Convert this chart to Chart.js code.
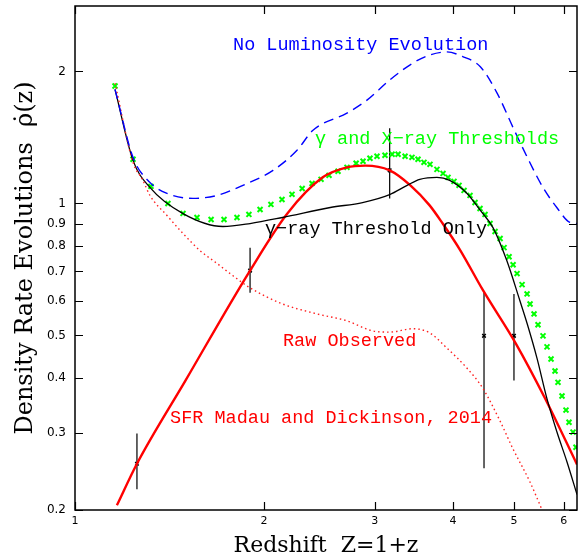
<!DOCTYPE html>
<html lang="en">
<head>
<meta charset="UTF-8">
<title>Density Rate Evolutions</title>
<script src="https://cdn.jsdelivr.net/npm/chart.js"></script>
<style>
  html, body { margin: 0; padding: 0; background: #fff; }
</style>
</head>
<body>
<canvas id="rateChart" width="579" height="560"></canvas>
<script>
// Tick values (Z = 1+z on x, rho-dot on y)
const xTicks = [1, 2, 3, 4, 5, 6];
const yTicks = [0.2, 0.3, 0.4, 0.5, 0.6, 0.7, 0.8, 0.9, 1, 2];

// SFR Madau and Dickinson, 2014 (red solid)
const sfrX = [1.166, 1.255, 1.5, 1.9, 2.18, 2.48, 2.71, 2.90, 3.17, 3.42, 3.67, 3.85, 4.1, 4.46, 5.04, 5.6, 6.3];
const sfrY = [0.205, 0.255, 0.395, 0.703, 0.95, 1.147, 1.209, 1.22, 1.19, 1.10, 0.99, 0.90, 0.785, 0.635, 0.478, 0.36, 0.254];

// gamma-ray threshold only (black solid)
const gamX = [1.158, 1.237, 1.316, 1.486, 1.72, 1.90, 2.14, 2.55, 2.87, 3.17, 3.38, 3.54, 3.77, 3.95, 4.21, 4.42, 4.63, 4.87, 5.11, 5.25, 5.44, 5.64, 5.85, 6.07, 6.3];
const gamY = [1.82, 1.254, 1.088, 0.948, 0.886, 0.90, 0.929, 0.979, 1.005, 1.048, 1.10, 1.135, 1.147, 1.129, 1.054, 0.964, 0.881, 0.741, 0.60, 0.531, 0.444, 0.36, 0.302, 0.258, 0.217];

// no luminosity evolution (blue dashed)
const nleX = [1.158, 1.237, 1.316, 1.401, 1.541, 1.683, 1.851, 2.067, 2.257, 2.393, 2.71, 2.917, 3.17, 3.452, 3.67, 3.91, 4.15, 4.42, 4.70, 4.98, 5.25, 5.56, 5.85, 6.14, 6.3];
const nleY = [1.82, 1.274, 1.117, 1.054, 1.027, 1.043, 1.10, 1.19, 1.322, 1.469, 1.607, 1.72, 1.912, 2.09, 2.18, 2.216, 2.16, 2.05, 1.785, 1.493, 1.274, 1.088, 0.979, 0.905, 0.90];

// raw observed (red dotted)
const rawX = [1.158, 1.237, 1.283, 1.316, 1.401, 1.486, 1.581, 1.683, 1.785, 1.90, 2.14, 2.429, 2.71, 2.982, 3.17, 3.452, 3.67, 3.91, 4.21, 4.46, 4.752, 4.98, 5.30, 5.56];
const rawY = [1.88, 1.241, 1.129, 1.043, 0.939, 0.854, 0.781, 0.73, 0.684, 0.642, 0.590, 0.560, 0.540, 0.512, 0.509, 0.518, 0.507, 0.468, 0.421, 0.379, 0.319, 0.276, 0.232, 0.198];

// gamma and X-ray thresholds (green crosses)
const gxX = [1.158, 1.237, 1.321, 1.406, 1.486, 1.564, 1.647, 1.727, 1.811, 1.892, 1.971, 2.051, 2.136, 2.216, 2.30, 2.385,
  2.465, 2.538, 2.623, 2.711, 2.803, 2.875, 2.949, 3.026, 3.116, 3.198, 3.269, 3.354, 3.44, 3.517, 3.595, 3.675,
  3.77, 3.855, 3.926, 4.013, 4.088, 4.164, 4.256, 4.335, 4.415, 4.497, 4.58, 4.665, 4.752, 4.822, 4.911, 4.984,
  5.057, 5.151, 5.246, 5.304, 5.382, 5.461, 5.562, 5.644, 5.728, 5.812, 5.876, 5.963, 6.051, 6.118, 6.209, 6.277];
const gxY = [1.853, 1.261, 1.094, 1.0, 0.949, 0.929, 0.919, 0.919, 0.929, 0.944, 0.969, 0.995, 1.021, 1.049, 1.082, 1.111,
  1.135, 1.159, 1.184, 1.209, 1.235, 1.248, 1.268, 1.281, 1.288, 1.295, 1.295, 1.281, 1.274, 1.261, 1.241, 1.228,
  1.196, 1.171, 1.147, 1.123, 1.100, 1.071, 1.043, 1.005, 0.974, 0.944, 0.900, 0.863, 0.832, 0.793, 0.756, 0.725,
  0.692, 0.653, 0.622, 0.590, 0.560, 0.529, 0.499, 0.471, 0.442, 0.415, 0.391, 0.364, 0.338, 0.317, 0.301, 0.278];

// data points with error bars
const errX = [1.255, 1.9, 3.17, 4.48, 5.0];
const errY = [0.255, 0.703, 1.19, 0.499, 0.499];
const errLo = [0.223, 0.626, 1.027, 0.249, 0.395];
const errHi = [0.299, 0.793, 1.485, 0.626, 0.622];

// curve labels, placed in data coordinates (left edge, vertical middle)
const notes = [
  { text: 'No Luminosity Evolution', x: 1.785, y: 2.30, color: '#0000ff' },
  { text: 'γ and X−ray Thresholds', x: 2.41, y: 1.40, color: '#00ff00' },
  { text: 'γ−ray Threshold Only', x: 2.007, y: 0.872, color: '#000000' },
  { text: 'Raw Observed', x: 2.144, y: 0.486, color: '#ff0000' },
  { text: 'SFR Madau and Dickinson, 2014', x: 1.417, y: 0.324, color: '#ff0000' }
];

const pts = (xs, ys) => xs.map((v, i) => ({ x: v, y: ys[i] }));

// error bars as one line dataset, broken by null points
const errBars = [];
errX.forEach((v, i) => {
  errBars.push({ x: v, y: errLo[i] }, { x: v, y: errHi[i] }, { x: v, y: null });
});

// keep the plot box fixed: no extra room for edge labels
const noPad = s => { s.paddingTop = 0; s.paddingBottom = 0; s.paddingLeft = 0; s.paddingRight = 0; };

const framePlugin = {
  id: 'frame',
  afterDatasetsDraw(chart) {
    const { ctx, chartArea: a, scales: { x, y } } = chart;
    ctx.save();
    ctx.strokeStyle = '#000';
    ctx.lineWidth = 1.5;
    ctx.strokeRect(a.left, a.top, a.right - a.left, a.bottom - a.top);
    ctx.lineWidth = 1.2;
    ctx.beginPath();
    xTicks.forEach(v => {
      const px = Math.round(x.getPixelForValue(v)) + 0.5;
      ctx.moveTo(px, a.bottom); ctx.lineTo(px, a.bottom - 8);
      ctx.moveTo(px, a.top); ctx.lineTo(px, a.top + 8);
    });
    yTicks.forEach(v => {
      const py = Math.round(y.getPixelForValue(v)) + 0.5;
      ctx.moveTo(a.left, py); ctx.lineTo(a.left + 8, py);
      ctx.moveTo(a.right, py); ctx.lineTo(a.right - 8, py);
    });
    ctx.stroke();

    ctx.font = '18.5px "Liberation Mono", monospace';
    ctx.textAlign = 'left';
    ctx.textBaseline = 'middle';
    notes.forEach(n => {
      ctx.fillStyle = n.color;
      ctx.fillText(n.text, x.getPixelForValue(n.x), y.getPixelForValue(n.y));
    });
    ctx.restore();
  }
};

const curve = { pointRadius: 0, cubicInterpolationMode: 'monotone' };

new Chart(document.getElementById('rateChart').getContext('2d'), {
  type: 'line',
  data: {
    datasets: [
      Object.assign({
        label: 'No Luminosity Evolution',
        data: pts(nleX, nleY),
        borderColor: '#0000ff',
        borderWidth: 1.4,
        borderDash: [10, 6]
      }, curve),
      Object.assign({
        label: 'Raw Observed',
        data: pts(rawX, rawY),
        borderColor: '#ff2020',
        borderWidth: 1.4,
        borderDash: [1.5, 3]
      }, curve),
      Object.assign({
        label: 'gamma-ray Threshold Only',
        data: pts(gamX, gamY),
        borderColor: '#000000',
        borderWidth: 1.3
      }, curve),
      Object.assign({
        label: 'SFR Madau and Dickinson, 2014',
        data: pts(sfrX, sfrY),
        borderColor: '#ff0000',
        borderWidth: 2.4
      }, curve),
      {
        label: 'gamma and X-ray Thresholds',
        data: pts(gxX, gxY),
        showLine: false,
        pointStyle: 'crossRot',
        pointRadius: 3.5,
        pointBorderColor: '#00ff00',
        pointBorderWidth: 2
      },
      {
        label: 'error bars',
        data: errBars,
        borderColor: '#000000',
        borderWidth: 1.2,
        pointRadius: 0,
        spanGaps: false
      },
      {
        label: 'data',
        data: pts(errX, errY),
        showLine: false,
        pointStyle: 'crossRot',
        pointRadius: 2.5,
        pointBorderColor: '#000000',
        pointBorderWidth: 1.5
      }
    ]
  },
  options: {
    responsive: false,
    animation: false,
    events: [],
    layout: { autoPadding: false, padding: { top: 6, right: 2, left: 0, bottom: 0 } },
    plugins: { legend: { display: false }, tooltip: { enabled: false } },
    scales: {
      x: {
        type: 'logarithmic',
        min: 1,
        max: 6.3,
        afterBuildTicks: s => { s.ticks = xTicks.map(v => ({ value: v })); },
        afterFit: s => { s.height = 50; noPad(s); },
        grid: { display: false, drawTicks: false },
        border: { display: false },
        ticks: {
          autoSkip: false,
          maxRotation: 0,
          padding: 5,
          color: '#000',
          font: { family: '"DejaVu Sans"', size: 11 },
          callback: v => String(v)
        },
        title: {
          display: true,
          text: 'Redshift  Z=1+z',
          color: '#000',
          font: { family: '"DejaVu Serif"', size: 22 },
          padding: { top: 0, bottom: 1 }
        }
      },
      y: {
        type: 'logarithmic',
        min: 0.2,
        max: 2.82,
        afterBuildTicks: s => { s.ticks = yTicks.map(v => ({ value: v })); },
        afterFit: s => { s.width = 75; noPad(s); },
        grid: { display: false, drawTicks: false },
        border: { display: false },
        ticks: {
          autoSkip: false,
          padding: 9,
          color: '#000',
          font: { family: '"DejaVu Sans"', size: 12 },
          callback: v => String(v)
        },
        title: {
          display: true,
          text: 'Density Rate Evolutions  ρ̇(z)',
          color: '#000',
          font: { family: '"DejaVu Serif"', size: 24 },
          padding: { top: 11, bottom: 0 }
        }
      }
    }
  },
  plugins: [framePlugin]
});
</script>
</body>
</html>
